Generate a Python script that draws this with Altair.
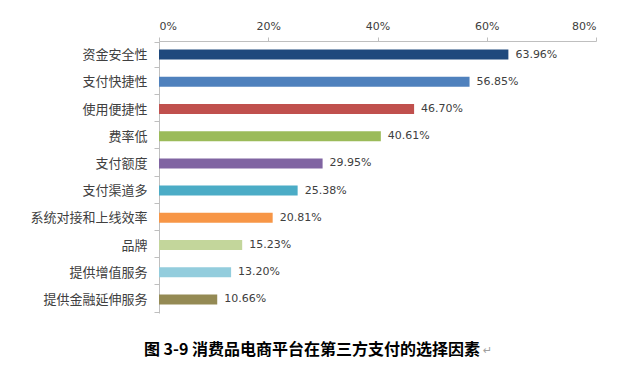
import altair as alt
import pandas as pd

categories = ["资金安全性", "支付快捷性", "使用便捷性", "费率低", "支付额度",
              "支付渠道多", "系统对接和上线效率", "品牌", "提供增值服务", "提供金融延伸服务"]
values = [0.6396, 0.5685, 0.4670, 0.4061, 0.2995, 0.2538, 0.2081, 0.1523, 0.1320, 0.1066]
colors = ["#1F497D", "#4F81BD", "#C0504D", "#9BBB59", "#8064A2",
          "#4BACC6", "#F79646", "#C3D69B", "#93CDDD", "#948A54"]
x_ticks = [0, 0.2, 0.4, 0.6, 0.8]
title_text = "图 3-9  消费品电商平台在第三方支付的选择因素"

df = pd.DataFrame({"cat": categories, "val": values, "color": colors,
                   "label": [f"{v*100:.2f}%" for v in values]})

y_enc = alt.Y("cat:N", sort=categories, title=None,
              axis=alt.Axis(labelFont="Noto Sans CJK SC", labelFontSize=13,
                            labelColor="#404040", domainColor="#BFBFBF",
                            tickColor="#BFBFBF", tickBand="extent", tickSize=5,
                            labelPadding=7))
x_enc = alt.X("val:Q", title=None,
              scale=alt.Scale(domain=[0, 0.8], nice=False),
              axis=alt.Axis(orient="top", values=x_ticks, format=".0%", grid=False,
                            labelFont="DejaVu Sans", labelFontSize=11,
                            labelColor="#404040", domainColor="#BFBFBF",
                            tickColor="#BFBFBF", tickSize=4, labelPadding=6))

base = alt.Chart(df)
bars = base.mark_bar(size=10).encode(
    y=y_enc, x=x_enc,
    color=alt.Color("color:N", scale=None, legend=None))
texts = base.mark_text(align="left", baseline="middle", dx=7,
                       font="DejaVu Sans", fontSize=11, color="#404040").encode(
    y=alt.Y("cat:N", sort=categories), x="val:Q", text="label:N")
title_mark = alt.Chart(pd.DataFrame({"t": [title_text]})).mark_text(
    align="center", baseline="middle", font="Noto Sans CJK SC", fontSize=16,
    fontWeight="bold", color="#000000").encode(
    x=alt.value(153), y=alt.value(309), text="t:N")
mark_sym = alt.Chart(pd.DataFrame({"t": ["↵"]})).mark_text(
    align="left", baseline="middle", font="DejaVu Sans", fontSize=11,
    color="#A0A0A0").encode(x=alt.value(324), y=alt.value(310), text="t:N")

chart = alt.layer(bars, texts, title_mark, mark_sym).properties(
    width=437, height=272,
    padding={"left": 151, "top": 33, "right": 18, "bottom": 47},
    autosize=alt.AutoSizeParams(type="none"),
).configure_view(stroke=None)

chart.save("out.html", embed_options={"renderer": "svg", "actions": False})
